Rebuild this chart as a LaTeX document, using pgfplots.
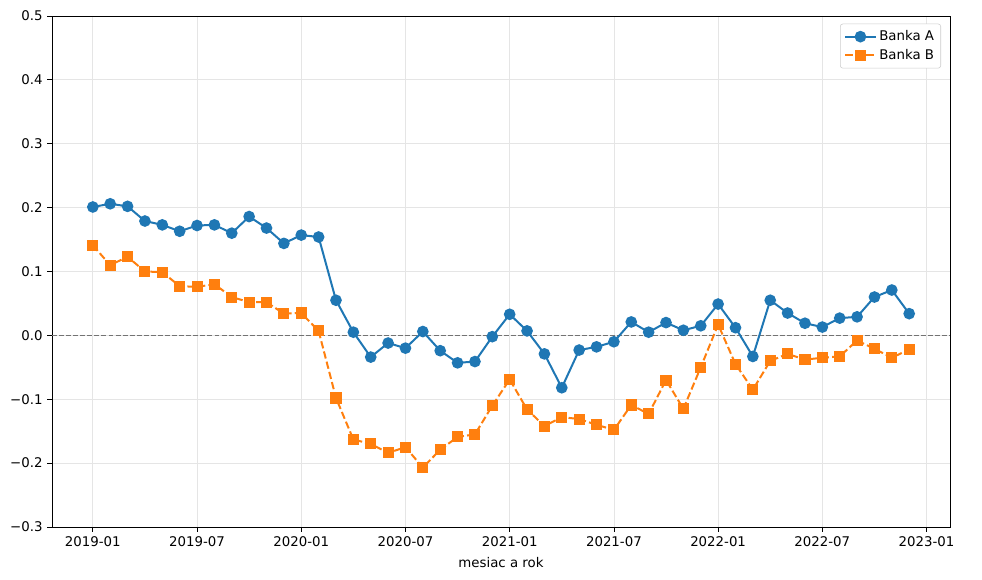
\documentclass[border=0pt]{standalone}
\usepackage{pgfplots}
\pgfplotsset{compat=1.18}
\usepackage{fontspec}
\setmainfont{DejaVu Sans}
\definecolor{cA}{HTML}{1F77B4}
\definecolor{cB}{HTML}{FF7F0E}
\begin{document}
\begin{tikzpicture}[font=\fontsize{10}{12}\selectfont]
\begin{axis}[
    at={(0,0)}, anchor=south west,
    scale only axis,
    width=673.5pt, height=383.25pt,
    xmin=-2.35, xmax=49.35,
    ymin=-0.3, ymax=0.5,
    xtick={0,6,12,18,24,30,36,42,48},
    xticklabels={2019-01,2019-07,2020-01,2020-07,2021-01,2021-07,2022-01,2022-07,2023-01},
    ytick={-0.3,-0.2,-0.1,0,0.1,0.2,0.3,0.4,0.5},
    yticklabels={−0.3,−0.2,−0.1,0.0,0.1,0.2,0.3,0.4,0.5},
    xlabel={mesiac a rok},
    xlabel style={yshift=-1pt},
    grid=major,
    major grid style={black!10, line width=0.6pt},
    tick align=outside,
    tick pos=lower,
    major tick length=3.5pt,
    axis line style={line width=0.6pt},
    every tick/.style={black, line width=0.6pt},
    /pgf/number format/assume math mode=true,
    legend style={at={(0.99,0.985)}, anchor=north east, draw=black!20,
        rounded corners=2pt, font=\fontsize{10}{12}\selectfont, row sep=1pt,
        inner sep=3pt},
    legend cell align=left,
    legend image code/.code={\draw[mark repeat=2,mark phase=2]
        plot coordinates {(0cm,0cm) (0.4cm,0cm) (0.8cm,0cm)};},
]
\addplot[black!55, dash pattern=on 3.7pt off 1.6pt, line width=0.8pt, forget plot] coordinates {(-2.35,0) (49.35,0)};
\addplot[cA, line width=1.5pt, mark=*, mark size=3.6pt, mark options={solid}] table {
x y
0 0.201
1 0.206
2 0.202
3 0.179
4 0.173
5 0.163
6 0.172
7 0.173
8 0.160
9 0.186
10 0.168
11 0.144
12 0.157
13 0.154
14 0.055
15 0.005
16 -0.034
17 -0.012
18 -0.020
19 0.006
20 -0.024
21 -0.043
22 -0.041
23 -0.002
24 0.033
25 0.007
26 -0.029
27 -0.082
28 -0.023
29 -0.018
30 -0.010
31 0.021
32 0.005
33 0.020
34 0.008
35 0.015
36 0.049
37 0.012
38 -0.033
39 0.055
40 0.035
41 0.019
42 0.013
43 0.027
44 0.029
45 0.060
46 0.071
47 0.034
};
\addlegendentry{Banka A}
\addplot[cB, line width=1.5pt, dash pattern=on 5.5pt off 2.4pt, mark=square*, mark size=3.4pt, mark options={solid}] table {
x y
0 0.141
1 0.110
2 0.123
3 0.100
4 0.099
5 0.077
6 0.076
7 0.080
8 0.060
9 0.052
10 0.052
11 0.034
12 0.035
13 0.007
14 -0.098
15 -0.163
16 -0.170
17 -0.184
18 -0.175
19 -0.207
20 -0.179
21 -0.159
22 -0.155
23 -0.110
24 -0.069
25 -0.116
26 -0.142
27 -0.128
28 -0.131
29 -0.140
30 -0.148
31 -0.109
32 -0.123
33 -0.070
34 -0.115
35 -0.050
36 0.017
37 -0.045
38 -0.085
39 -0.040
40 -0.029
41 -0.038
42 -0.035
43 -0.033
44 -0.008
45 -0.021
46 -0.035
47 -0.022
};
\addlegendentry{Banka B}
\end{axis}
\path (-39pt,-39.75pt) rectangle (697.5pt,395.25pt);
\end{tikzpicture}
\end{document}
